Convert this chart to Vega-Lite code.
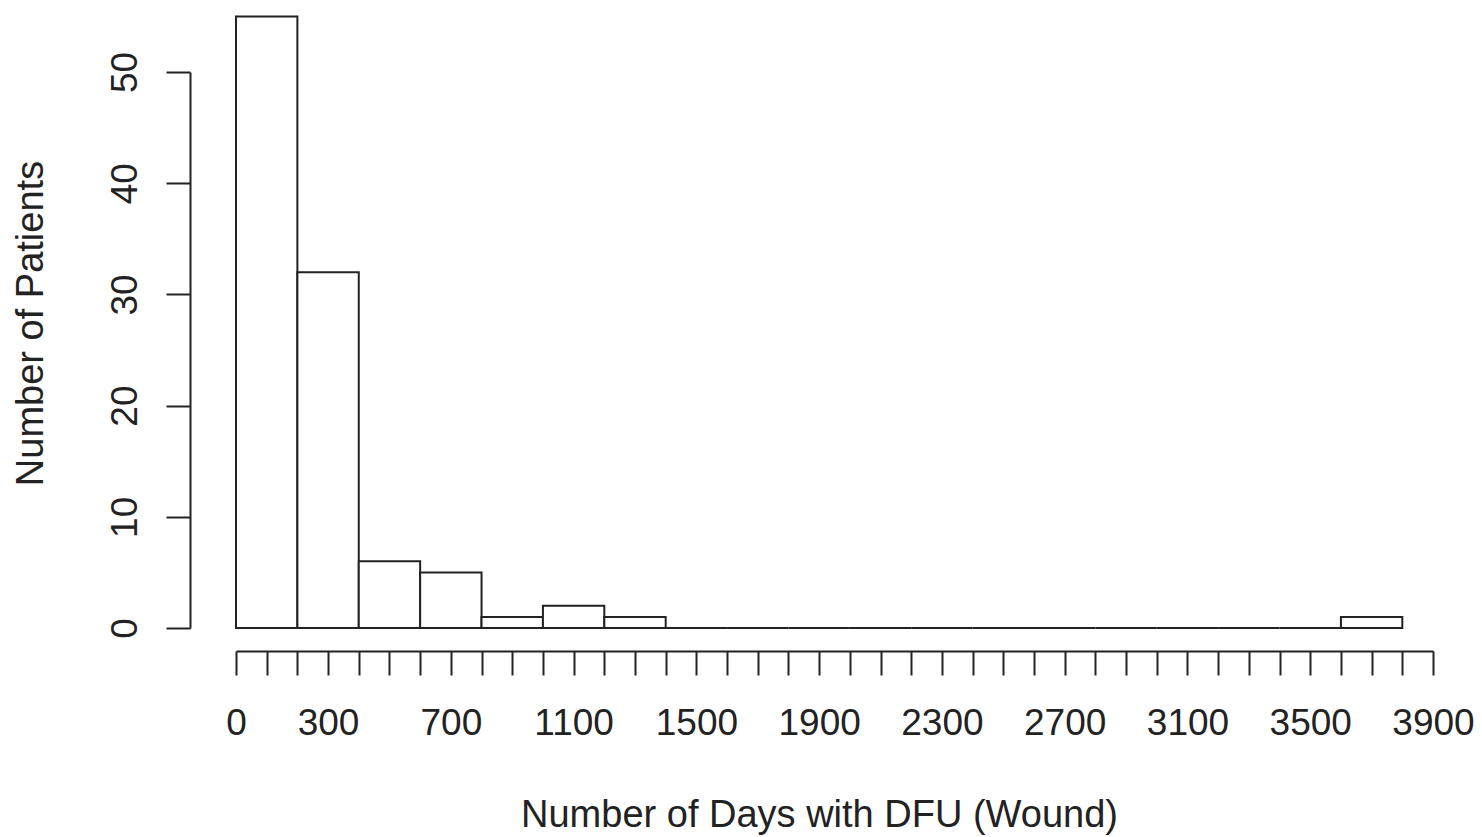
{
  "$schema": "https://vega.github.io/schema/vega-lite/v6.json",
  "autosize": "none",
  "width": 1197,
  "height": 556,
  "padding": {"left": 236, "top": 72, "right": 49, "bottom": 209},
  "background": "white",
  "config": {
    "view": {"stroke": null},
    "font": "Liberation Sans",
    "axis": {
      "grid": false,
      "domainColor": "#222",
      "domainWidth": 2,
      "tickColor": "#222",
      "tickWidth": 2,
      "tickSize": 24,
      "labelPadding": 30,
      "labelFont": "Liberation Sans",
      "labelFontSize": 37,
      "labelColor": "#222",
      "titleFont": "Liberation Sans",
      "titleFontSize": 38,
      "titleFontWeight": "normal",
      "titleColor": "#222"
    }
  },
  "data": {
    "values": [
      {"start": 0, "end": 200, "count": 55},
      {"start": 200, "end": 400, "count": 32},
      {"start": 400, "end": 600, "count": 6},
      {"start": 600, "end": 800, "count": 5},
      {"start": 800, "end": 1000, "count": 1},
      {"start": 1000, "end": 1200, "count": 2},
      {"start": 1200, "end": 1400, "count": 1},
      {"start": 1400, "end": 1600, "count": 0},
      {"start": 1600, "end": 1800, "count": 0},
      {"start": 1800, "end": 2000, "count": 0},
      {"start": 2000, "end": 2200, "count": 0},
      {"start": 2200, "end": 2400, "count": 0},
      {"start": 2400, "end": 2600, "count": 0},
      {"start": 2600, "end": 2800, "count": 0},
      {"start": 2800, "end": 3000, "count": 0},
      {"start": 3000, "end": 3200, "count": 0},
      {"start": 3200, "end": 3400, "count": 0},
      {"start": 3400, "end": 3600, "count": 0},
      {"start": 3600, "end": 3800, "count": 1}
    ]
  },
  "mark": {"type": "rect", "fill": "white", "stroke": "#222", "strokeWidth": 2, "clip": false},
  "encoding": {
    "x": {
      "field": "start",
      "type": "quantitative",
      "scale": {"domain": [0, 3900], "nice": false, "zero": false},
      "axis": {
        "title": "Number of Days with DFU (Wound)",
        "offset": 23,
        "values": [0,100,200,300,400,500,600,700,800,900,1000,1100,1200,1300,1400,1500,1600,1700,1800,1900,2000,2100,2200,2300,2400,2500,2600,2700,2800,2900,3000,3100,3200,3300,3400,3500,3600,3700,3800,3900],
        "labelExpr": "indexof([0,300,700,1100,1500,1900,2300,2700,3100,3500,3900], datum.value) >= 0 ? format(datum.value, 'd') : ''",
        "labelOverlap": false,
        "labelBound": false,
        "labelFlush": false,
        "titleX": 583,
        "titleY": 175,
        "titleBaseline": "alphabetic",
        "titleAlign": "center"
      }
    },
    "x2": {"field": "end"},
    "y": {
      "field": "count",
      "type": "quantitative",
      "scale": {"domain": [0, 50], "nice": false, "zero": true},
      "axis": {
        "title": "Number of Patients",
        "offset": 46,
        "values": [0, 10, 20, 30, 40, 50],
        "labelAngle": -90,
        "labelAlign": "center",
        "labelBaseline": "alphabetic",
        "labelOverlap": false,
        "labelBound": false,
        "labelFlush": false,
        "titleAngle": -90,
        "titleX": -148,
        "titleY": 251,
        "titleBaseline": "alphabetic",
        "titleAlign": "center"
      }
    },
    "y2": {"datum": 0}
  }
}
